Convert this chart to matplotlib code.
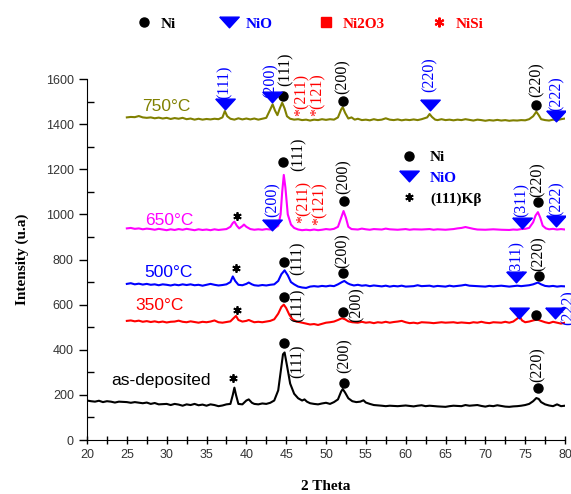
import matplotlib
matplotlib.use("Agg")
import matplotlib.pyplot as plt
from matplotlib.lines import Line2D
from matplotlib.ticker import MultipleLocator

# ---- data ----
tt_asdep = [20, 20.5, 21, 21.5, 22, 22.5, 23, 23.5, 24, 25, 25.5, 26, 27, 27.5, 28, 28.5, 29, 30, 30.5,
            31, 31.5, 32, 32.5, 33, 33.5, 34, 34.5, 35, 35.5, 36, 36.5, 37, 37.5, 38, 38.3, 38.5, 38.7,
            39, 39.5, 40, 40.3, 40.7, 41, 41.5, 42, 42.5, 43, 43.5, 44, 44.3, 44.6, 44.8, 45.1, 45.5,
            46, 46.5, 47, 47.3, 47.6, 48, 48.5, 49, 49.5, 50, 50.5, 51, 51.5, 51.9, 52.1, 52.4, 52.8,
            53.3, 53.8, 54.3, 54.7, 55, 55.5, 56, 57, 57.5, 58, 59, 60, 60.5, 61, 61.5, 62, 62.5, 63,
            64, 65, 65.5, 66, 67, 67.5, 68, 69, 69.5, 70, 70.5, 71, 71.5, 72, 72.5, 73, 73.5, 74, 74.5,
            75, 75.5, 76, 76.4, 76.7, 77, 77.5, 78, 78.5, 79, 79.5, 80]
i_asdep = [175, 172, 170, 174, 168, 172, 170, 166, 170, 168, 165, 168, 163, 166, 160, 164, 158, 160, 155,
           160, 157, 152, 158, 155, 160, 154, 157, 152, 158, 155, 150, 153, 158, 160, 200, 232, 200,
           160, 158, 175, 180, 165, 160, 158, 162, 160, 165, 175, 220, 300, 380, 388, 330, 250,
           205, 185, 175, 180, 170, 163, 160, 158, 162, 165, 160, 168, 180, 215, 226, 210, 185,
           172, 168, 170, 176, 166, 160, 155, 152, 150, 152, 150, 153, 151, 149, 152, 154, 150, 152,
           149, 147, 150, 152, 150, 155, 152, 155, 151, 148, 152, 150, 154, 151, 148, 147, 149, 150, 152,
           155, 160, 172, 186, 182, 168, 158, 153, 150, 158, 150, 152]

tt_350 = [25, 25.5, 26, 26.5, 27, 27.5, 28, 28.5, 29, 29.5, 30, 30.5, 31, 31.5, 32, 32.5, 33, 33.5,
          34, 34.5, 35, 35.5, 36, 36.5, 37, 37.5, 38, 38.4, 38.7, 39, 39.5, 40, 40.3, 40.7, 41, 41.5,
          42, 42.5, 43, 43.5, 44, 44.4, 44.7, 45, 45.4, 45.8, 46.3, 47, 47.5, 48, 48.5, 49, 49.5, 50,
          50.5, 51, 51.5, 52, 52.4, 52.8, 53.3, 54, 54.5, 55, 55.5, 56, 56.5, 57, 57.5, 58, 58.5, 59,
          59.5, 60, 60.5, 61, 61.5, 62, 63, 63.5, 64, 64.5, 65, 66, 66.5, 67, 68, 68.5, 69, 69.5, 70,
          70.5, 71, 72, 72.5, 73, 73.5, 74, 74.3, 74.6, 75, 75.5, 76, 76.5, 77, 77.5, 78, 78.5, 79,
          79.5, 80]
i_350 = [528, 530, 526, 529, 524, 527, 523, 526, 522, 525, 521, 524, 525, 529, 524, 522, 526, 523,
         520, 524, 522, 525, 530, 522, 520, 523, 526, 540, 550, 532, 525, 528, 532, 526, 522, 524,
         522, 525, 528, 535, 560, 590, 600, 585, 555, 535, 525, 520, 516, 512, 514, 510, 515, 520,
         522, 525, 532, 540, 535, 526, 522, 520, 524, 520, 522, 518, 522, 520, 524, 520, 523, 525,
         528, 522, 518, 520, 517, 522, 520, 518, 520, 522, 520, 522, 519, 521, 518, 522, 520, 524, 520,
         518, 522, 520, 524, 520, 525, 538, 548, 530, 522, 525, 530, 534, 528, 522, 518, 524, 520,
         516, 520]

tt_500 = [25, 25.5, 26, 26.5, 27, 27.5, 28, 28.5, 29, 29.5, 30, 30.5, 31, 31.5, 32, 32.5, 33, 33.5,
          34, 34.5, 35, 35.5, 36, 36.5, 37, 37.5, 38, 38.3, 38.6, 39, 39.5, 40, 40.3, 40.7, 41, 41.5,
          42, 42.5, 43, 43.5, 44, 44.4, 44.8, 45.2, 45.6, 46, 46.5, 47, 47.5, 48, 48.5, 49, 49.5, 50,
          50.5, 51, 51.5, 52, 52.3, 52.7, 53, 53.5, 54, 54.5, 55, 55.5, 56, 57, 57.5, 58, 58.5, 59,
          59.5, 60, 61, 61.5, 62, 63, 63.5, 64, 65, 65.5, 66, 67, 67.5, 68, 69, 70, 70.5, 71, 72, 73,
          73.5, 74, 74.5, 75, 75.5, 76, 76.6, 77, 77.5, 78, 78.5, 79, 79.5, 80]
i_500 = [692, 695, 690, 693, 689, 692, 688, 690, 686, 690, 688, 685, 689, 686, 690, 687, 690, 686,
         688, 684, 688, 692, 688, 685, 687, 690, 700, 725, 705, 688, 686, 692, 698, 690, 686, 684,
         687, 685, 688, 690, 705, 735, 752, 730, 700, 690, 680, 676, 674, 680, 682, 680, 683, 681,
         684, 682, 690, 700, 705, 695, 690, 685, 688, 684, 686, 682, 685, 681, 684, 680, 683, 681,
         684, 680, 682, 686, 682, 684, 680, 683, 680, 684, 681, 685, 688, 684, 682, 680, 683, 681, 684, 680,
         682, 684, 682, 684, 686, 690, 698, 690, 683, 681, 683, 680, 682, 681]

tt_650 = [25, 25.5, 26, 26.5, 27, 27.5, 28, 28.5, 29, 29.5, 30, 30.5, 31, 31.5, 32, 32.5, 33, 33.5,
          34, 34.5, 35, 35.5, 36, 36.5, 37, 37.5, 38, 38.3, 38.5, 38.8, 39.1, 39.5, 39.7, 40, 40.5,
          41, 41.5, 42, 42.5, 43, 43.5, 44, 44.3, 44.5, 44.7, 44.9, 45.2, 45.6, 46, 46.5, 47, 47.5,
          48, 48.5, 49, 49.5, 50, 50.5, 51, 51.5, 51.9, 52.2, 52.5, 52.8, 53.2, 54, 54.5, 55, 55.5,
          56, 57, 57.5, 58, 59, 60, 60.5, 61, 62, 63, 63.5, 64, 65, 66, 66.5, 67, 67.5, 68, 68.5, 69,
          70, 71, 72, 73, 73.5, 74, 74.5, 75, 75.5, 76, 76.3, 76.6, 76.9, 77.2, 77.6, 78, 78.5, 79,
          79.5, 80]
i_650 = [938, 940, 936, 938, 934, 937, 935, 932, 936, 933, 930, 934, 931, 935, 932, 936, 933, 930,
         934, 931, 933, 930, 934, 931, 933, 935, 945, 962, 968, 950, 938, 948, 955, 945, 935,
         932, 934, 932, 935, 933, 938, 950, 1000, 1100, 1175, 1120, 1000, 955, 940, 933, 930, 932,
         930, 933, 930, 932, 935, 933, 936, 945, 985, 1015, 985, 945, 935, 933, 937, 934, 932,
         935, 933, 937, 934, 932, 935, 932, 934, 933, 935, 932, 934, 932, 935, 938, 940, 944, 940, 936, 933,
         932, 934, 932, 931, 933, 932, 935, 936, 940, 965, 995, 1010, 985, 950, 938, 934, 936, 933,
         935, 933]

tt_750 = [25, 25.5, 26, 26.5, 27, 27.5, 28, 28.5, 29, 29.5, 30, 30.5, 31, 31.5, 32, 32.5, 33, 33.5,
          34, 34.5, 35, 35.5, 36, 36.5, 37, 37.3, 37.6, 38, 38.5, 39, 39.5, 40, 40.5, 41, 41.5, 42,
          42.5, 43, 43.3, 43.6, 43.9, 44.2, 44.5, 44.8, 45.1, 45.5, 46, 46.5, 47, 47.5, 48, 48.5, 49,
          49.5, 50, 50.5, 51, 51.5, 51.9, 52.1, 52.4, 52.8, 53.2, 53.6, 54, 54.5, 55, 55.5, 56, 56.5,
          57, 57.5, 58, 58.5, 59, 59.5, 60, 60.5, 61, 61.5, 62, 62.7, 63, 63.3, 63.7, 64, 64.5, 65,
          65.5, 66, 66.5, 67, 67.5, 68, 68.5, 69, 69.5, 70, 70.5, 71, 71.5, 72, 72.5, 73, 73.5, 74,
          74.5, 75, 75.5, 76, 76.4, 76.7, 77, 77.5, 78, 78.5, 79, 79.5, 80]
i_750 = [1430, 1432, 1431, 1436, 1430, 1428, 1430, 1426, 1429, 1425, 1428, 1423, 1427, 1424, 1428, 1422, 1425, 1420,
         1424, 1420, 1423, 1421, 1424, 1422, 1430, 1458, 1435, 1424, 1420, 1426, 1421, 1425, 1421, 1425, 1420, 1424,
         1428, 1465, 1488, 1460, 1440, 1470, 1495, 1470, 1435, 1424, 1420, 1422, 1418, 1420, 1416, 1420, 1418,
         1422, 1419, 1422, 1420, 1430, 1465, 1475, 1450, 1425, 1430, 1420, 1424, 1418, 1420, 1417, 1422, 1418,
         1420, 1426, 1420, 1418, 1421, 1417, 1420, 1418, 1421, 1418, 1422, 1430, 1445, 1432, 1420, 1418, 1422, 1418,
         1420, 1417, 1420, 1418, 1422, 1419, 1416, 1420, 1418, 1415, 1418, 1416, 1419, 1416, 1418, 1415, 1417, 1416,
         1418, 1417, 1422, 1435, 1455, 1440, 1422, 1418, 1416, 1420, 1418, 1422, 1425]

# phase markers (2theta, intensity)
ni_x = [44.6, 52.1, 76.4, 44.6, 52.2, 76.6, 44.7, 52.1, 76.7, 44.7, 52.1, 76.3, 44.7, 52.2, 76.6]
ni_y = [1524, 1502, 1484, 1231, 1059, 1055, 788, 742, 726, 635, 569, 556, 428, 253, 232]
nio_x = [37.3, 43.2, 63.0, 78.9, 43.2, 74.6, 78.9, 73.9, 74.2, 78.7]
nio_y = [1490, 1520, 1484, 1435, 955, 964, 970, 724, 564, 564]
kb_x = [38.8, 38.7, 38.8, 38.3]
kb_y = [995, 764, 578, 274]

# (hkl) labels: 2theta, bottom intensity, text, colour
hkl_labels = [
    (37.3, 1511, "(111)", "blue"), (43.1, 1515, "(200)", "blue"), (44.9, 1569, "(111)", "black"),
    (46.9, 1435, "*(211)", "red"), (49.0, 1435, "*(121)", "red"), (52.1, 1533, "(200)", "black"),
    (63.0, 1542, "(220)", "blue"), (76.4, 1520, "(220)", "black"), (79.0, 1458, "(222)", "blue"),
    (43.3, 987, "(200)", "blue"), (46.6, 1191, "(111)", "black"), (47.2, 964, "*(211)", "red"),
    (49.2, 955, "*(121)", "red"), (52.2, 1089, "(200)", "black"), (74.6, 987, "(311)", "blue"),
    (76.6, 1075, "(220)", "black"), (79.0, 991, "(222)", "blue"),
    (46.5, 733, "(111)", "black"), (52.1, 764, "(200)", "black"), (73.9, 733, "(311)", "blue"),
    (76.7, 747, "(220)", "black"),
    (46.5, 524, "(111)", "black"), (53.8, 524, "(200)", "black"), (80.4, 511, "(222)", "blue"),
    (46.5, 276, "(111)", "black"), (52.3, 298, "(200)", "black"), (76.6, 258, "(220)", "black"),
]

series = [
    (tt_asdep, i_asdep, "black", "as-deposited", 23.1, 262),
    (tt_350, i_350, "#ff0000", "350°C", 26.1, 594),
    (tt_500, i_500, "#0000ff", "500°C", 27.2, 742),
    (tt_650, i_650, "#ff00ff", "650°C", 27.3, 973),
    (tt_750, i_750, "#808000", "750°C", 26.9, 1480),
]

serif = "Liberation Serif"
sans = "Liberation Sans"
# flat down-pointing triangle like the Origin symbol
tri = [(-1, 0.55), (1, 0.55), (0, -0.55), (-1, 0.55)]

fig = plt.figure(figsize=(5.71, 4.94), dpi=100)
ax = fig.add_axes([0.1524, 0.1093, 0.8371, 0.7307])

for x, y, c, name, lx, ly in series:
    ax.plot(x, y, color=c, lw=1.5)
    ax.text(lx, ly, name, color=c, fontsize=12.5, family=sans, ha="left", va="center")

ax.plot(ni_x, ni_y, "o", color="black", ms=6.5, ls="none")
ax.plot(nio_x, nio_y, marker=tri, color="blue", ms=14, ls="none")
ax.plot(kb_x, kb_y, ls="none", marker=(6, 2, 0), color="black", ms=6, mew=1.3)

for x, y, t, c in hkl_labels:
    ax.text(x, y, t, color=c, rotation=90, ha="center", va="bottom",
            fontsize=11.5, family=serif, clip_on=False)

ax.set_xlim(20, 80)
ax.set_ylim(0, 1600)
ax.xaxis.set_major_locator(MultipleLocator(5))
ax.xaxis.set_minor_locator(MultipleLocator(2.5))
ax.yaxis.set_major_locator(MultipleLocator(200))
ax.yaxis.set_minor_locator(MultipleLocator(100))
ax.tick_params(axis="x", which="both", direction="inout", length=6, width=1)
ax.tick_params(axis="y", which="major", direction="out", length=6, width=1)
ax.tick_params(axis="y", which="minor", direction="in", length=5, width=1)
ax.tick_params(labelsize=9, labelcolor="#333333")
for lab in ax.get_xticklabels() + ax.get_yticklabels():
    lab.set_family(sans)
for s in ["top", "right"]:
    ax.spines[s].set_visible(False)

ax.set_xlabel("2 Theta", family=serif, fontweight="bold", fontsize=11, labelpad=14)
ax.set_ylabel("Intensity (u.a)", family=serif, fontweight="bold", fontsize=11, labelpad=12)

# inner legend
inner = [Line2D([], [], marker="o", color="black", ls="none", ms=6.5),
         Line2D([], [], marker=tri, color="blue", ls="none", ms=14),
         Line2D([], [], marker=(6, 2, 0), color="black", ls="none", ms=6, mew=1.3)]
ax.legend(inner, ["Ni", "NiO", "(111)Kβ"], loc="upper left", bbox_to_anchor=(0.625, 0.84),
          frameon=False, labelcolor=["black", "blue", "black"], handlelength=1.2,
          handletextpad=0.8, labelspacing=0.45, prop={"family": serif, "weight": "bold", "size": 11})

# top legend
top = [Line2D([], [], marker="o", color="black", ls="none", ms=6.5),
       Line2D([], [], marker=tri, color="blue", ls="none", ms=14),
       Line2D([], [], marker="s", color="red", ls="none", ms=7),
       Line2D([], [], marker=(6, 2, 0), color="red", ls="none", ms=7, mew=1.5)]
fig.legend(top, ["Ni", "NiO", "Ni2O3", "NiSi"], loc="center left", bbox_to_anchor=(0.214, 0.952),
           ncol=4, frameon=False, labelcolor=["black", "blue", "red", "red"], handlelength=1.0,
           handletextpad=0.6, columnspacing=3.0, prop={"family": serif, "weight": "bold", "size": 11})

fig.savefig("out.png", dpi=100)
